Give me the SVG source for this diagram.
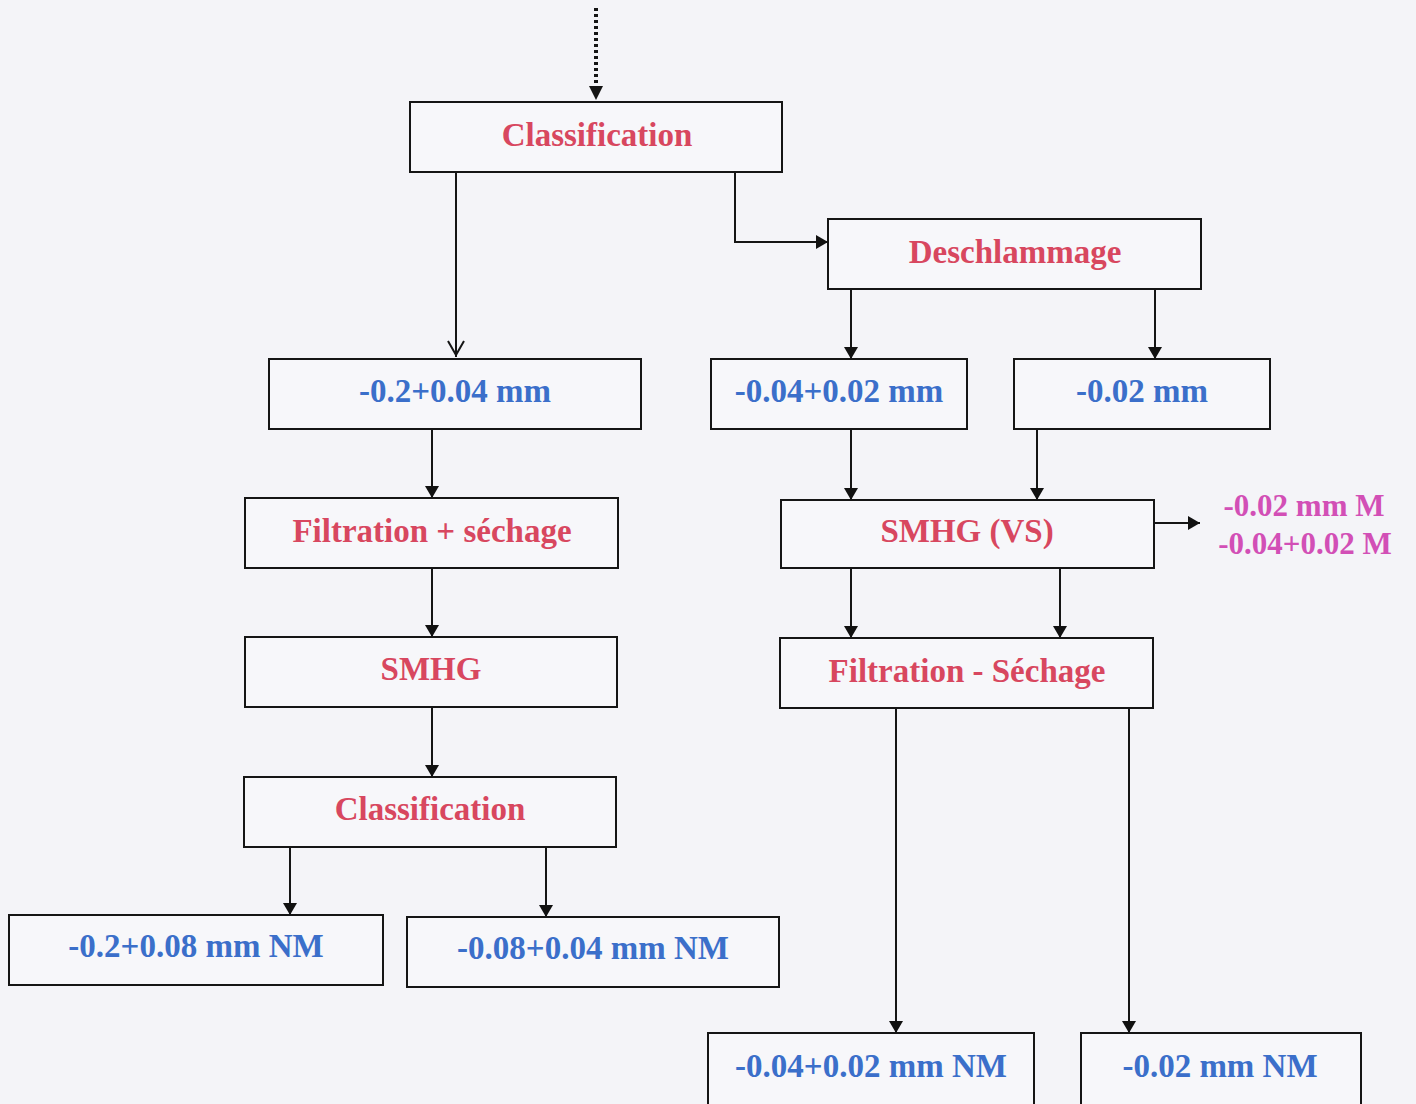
<svg xmlns="http://www.w3.org/2000/svg" width="1416" height="1104" viewBox="0 0 1416 1104">
<defs>
<marker id="ah" viewBox="0 0 12 14" refX="12" refY="7" markerWidth="13" markerHeight="14" markerUnits="userSpaceOnUse" orient="auto">
<path d="M0,0 L12,7 L0,14 Z" fill="#111"/>
</marker>
<style>
.box{fill:#f7f7fa;stroke:#151515;stroke-width:2}
.t{font-family:"Liberation Serif","Times New Roman",serif;font-weight:bold;font-size:33px;text-anchor:middle}
.r{fill:#d8475f}
.b{fill:#3b6fca}
.m{fill:#d24fb6;font-size:31px}
.c{fill:none;stroke:#151515;stroke-width:2}
</style>
</defs>
<rect width="1416" height="1104" fill="#f4f4f8"/>
<g id="connectors">
<line x1="596" y1="8" x2="596" y2="88" stroke="#151515" stroke-width="4" stroke-dasharray="3 3"/>
<path d="M589,86 L603,86 L596,100 Z" fill="#151515"/>
<path class="c" d="M456,172 V357"/>
<path class="c" d="M448,341 L456,355 L464,341"/>
<path class="c" d="M735,172 V242 H828" marker-end="url(#ah)"/>
<path class="c" d="M851,289 V359" marker-end="url(#ah)"/>
<path class="c" d="M1155,289 V359" marker-end="url(#ah)"/>
<path class="c" d="M432,429 V498" marker-end="url(#ah)"/>
<path class="c" d="M851,429 V500" marker-end="url(#ah)"/>
<path class="c" d="M1037,429 V500" marker-end="url(#ah)"/>
<path class="c" d="M1154,523 H1200" marker-end="url(#ah)"/>
<path class="c" d="M432,568 V637" marker-end="url(#ah)"/>
<path class="c" d="M851,568 V638" marker-end="url(#ah)"/>
<path class="c" d="M1060,568 V638" marker-end="url(#ah)"/>
<path class="c" d="M432,707 V777" marker-end="url(#ah)"/>
<path class="c" d="M290,847 V915" marker-end="url(#ah)"/>
<path class="c" d="M546,847 V917" marker-end="url(#ah)"/>
<path class="c" d="M896,708 V1033" marker-end="url(#ah)"/>
<path class="c" d="M1129,708 V1033" marker-end="url(#ah)"/>
</g>
<g id="classification1"><rect class="box" x="410" y="102" width="372" height="70"/><text class="t r" x="597" y="146">Classification</text></g>
<g id="deschlammage"><rect class="box" x="828" y="219" width="373" height="70"/><text class="t r" x="1015" y="263">Deschlammage</text></g>
<g id="f1"><rect class="box" x="269" y="359" width="372" height="70"/><text class="t b" x="455" y="402">-0.2+0.04 mm</text></g>
<g id="f2"><rect class="box" x="711" y="359" width="256" height="70"/><text class="t b" x="839" y="402">-0.04+0.02 mm</text></g>
<g id="f3"><rect class="box" x="1014" y="359" width="256" height="70"/><text class="t b" x="1142" y="402">-0.02 mm</text></g>
<g id="filtration1"><rect class="box" x="245" y="498" width="373" height="70"/><text class="t r" x="432" y="542">Filtration + séchage</text></g>
<g id="smhgvs"><rect class="box" x="781" y="500" width="373" height="68"/><text class="t r" x="967" y="542">SMHG (VS)</text></g>
<g id="magnetic"><text class="t m" x="1304" y="516">-0.02 mm M</text><text class="t m" x="1305" y="554">-0.04+0.02 M</text></g>
<g id="smhg"><rect class="box" x="245" y="637" width="372" height="70"/><text class="t r" x="431" y="680">SMHG</text></g>
<g id="filtration2"><rect class="box" x="780" y="638" width="373" height="70"/><text class="t r" x="967" y="682">Filtration - Séchage</text></g>
<g id="classification2"><rect class="box" x="244" y="777" width="372" height="70"/><text class="t r" x="430" y="820">Classification</text></g>
<g id="nm1"><rect class="box" x="9" y="915" width="374" height="70"/><text class="t b" x="196" y="957">-0.2+0.08 mm NM</text></g>
<g id="nm2"><rect class="box" x="407" y="917" width="372" height="70"/><text class="t b" x="593" y="959">-0.08+0.04 mm NM</text></g>
<g id="nm3"><rect class="box" x="708" y="1033" width="326" height="72"/><text class="t b" x="871" y="1077">-0.04+0.02 mm NM</text></g>
<g id="nm4"><rect class="box" x="1081" y="1033" width="280" height="72"/><text class="t b" x="1220" y="1077">-0.02 mm NM</text></g>
</svg>
